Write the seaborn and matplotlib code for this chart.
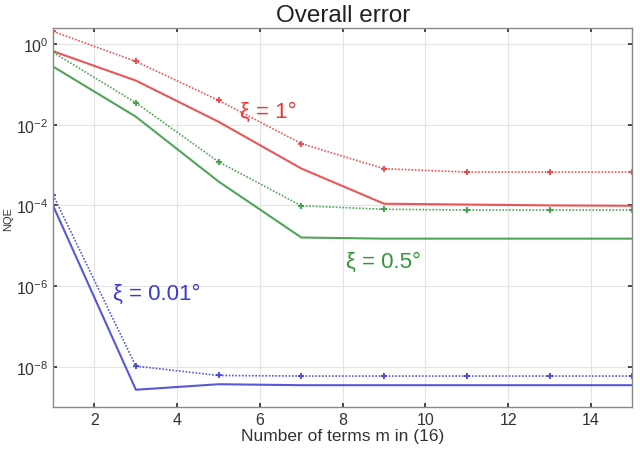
import matplotlib
matplotlib.use("Agg")
import matplotlib.pyplot as plt
import matplotlib.ticker as mticker
import numpy as np
import pandas as pd
import seaborn as sns

m_all = [1, 3, 5, 7, 9, 11, 13, 15]

# xi = 1 deg
red_dotted = [2.05, 0.37, 0.04, 3.4e-3, 8.1e-4, 6.7e-4, 6.7e-4, 6.7e-4]
red_solid = [0.66, 0.124, 0.0118, 8.2e-4, 1.1e-4, 1.05e-4, 1.0e-4, 9.8e-5]
# xi = 0.5 deg
green_dotted = [0.62, 0.035, 1.2e-3, 9.8e-5, 8.0e-5, 7.7e-5, 7.7e-5, 7.7e-5]
green_solid = [0.275, 0.0158, 3.9e-4, 1.6e-5, 1.5e-5, 1.5e-5, 1.5e-5, 1.5e-5]
# xi = 0.01 deg
blue_dotted = [1.8e-4, 1.04e-8, 6.1e-9, 5.9e-9, 5.9e-9, 5.9e-9, 5.9e-9, 5.9e-9]
blue_solid = [9.8e-5, 2.7e-9, 3.7e-9, 3.5e-9, 3.5e-9, 3.5e-9, 3.5e-9, 3.5e-9]

labels = ["\u03be = 1\u00b0", "\u03be = 0.5\u00b0", "\u03be = 0.01\u00b0"]

sns.set_theme(style="white")
plt.rcParams['font.family'] = ['Liberation Sans', 'DejaVu Sans']

red = "#e8383a"
green = "#33963a"
blue = "#3a3ad2"

fig = plt.figure(figsize=(6.4, 4.52), dpi=100)
ax = fig.add_axes([0.083, 0.097, 0.905, 0.839])

series = [
    (red_solid, red, "-", 1.5, None),
    (red_dotted, red, (0, (1, 1)), 1.2, "+"),
    (green_solid, green, "-", 1.5, None),
    (green_dotted, green, (0, (1, 1)), 1.2, "+"),
    (blue_solid, blue, "-", 1.5, None),
    (blue_dotted, blue, (0, (1, 1)), 1.2, "+"),
]
for vals, col, ls, lw, mk in series:
    df = pd.DataFrame({"m": m_all, "nqe": vals})
    sns.lineplot(data=df, x="m", y="nqe", ax=ax, color=col, linestyle=ls,
                 linewidth=lw, marker=mk, markersize=5, markeredgewidth=1.5,
                 markeredgecolor=col, alpha=0.85)

ax.set_yscale("log")
ax.set_xlim(1, 15)
ax.set_ylim(1e-9, 2.5)
ax.set_xticks([2, 4, 6, 8, 10, 12, 14])
ax.set_yticks([1e0, 1e-2, 1e-4, 1e-6, 1e-8])
ax.yaxis.set_major_formatter(mticker.LogFormatterSciNotation())
ax.yaxis.set_minor_locator(mticker.NullLocator())
ax.grid(True, color="#e4e4e4", linewidth=0.8)
ax.tick_params(direction="in", length=3, labelsize=11.5, colors="#333333",
               top=True, right=True, bottom=True, left=True)
for s in ax.spines.values():
    s.set_color("#888888")
    s.set_linewidth(1.0)

ax.set_title("Overall error", fontsize=17.5, color="#222222", pad=5)
ax.set_xlabel("Number of terms m in (16)", fontsize=12.5, color="#333333", labelpad=1)
ax.set_ylabel("NQE", fontsize=8, color="#333333", labelpad=2)

ax.text(5.52, 10 ** -1.68, labels[0], color=red, fontsize=16, va="center", ha="left")
ax.text(8.07, 10 ** -5.38, labels[1], color=green, fontsize=16, va="center", ha="left")
ax.text(2.45, 10 ** -6.17, labels[2], color=blue, fontsize=16, va="center", ha="left")

fig.savefig("out.png", dpi=100)
